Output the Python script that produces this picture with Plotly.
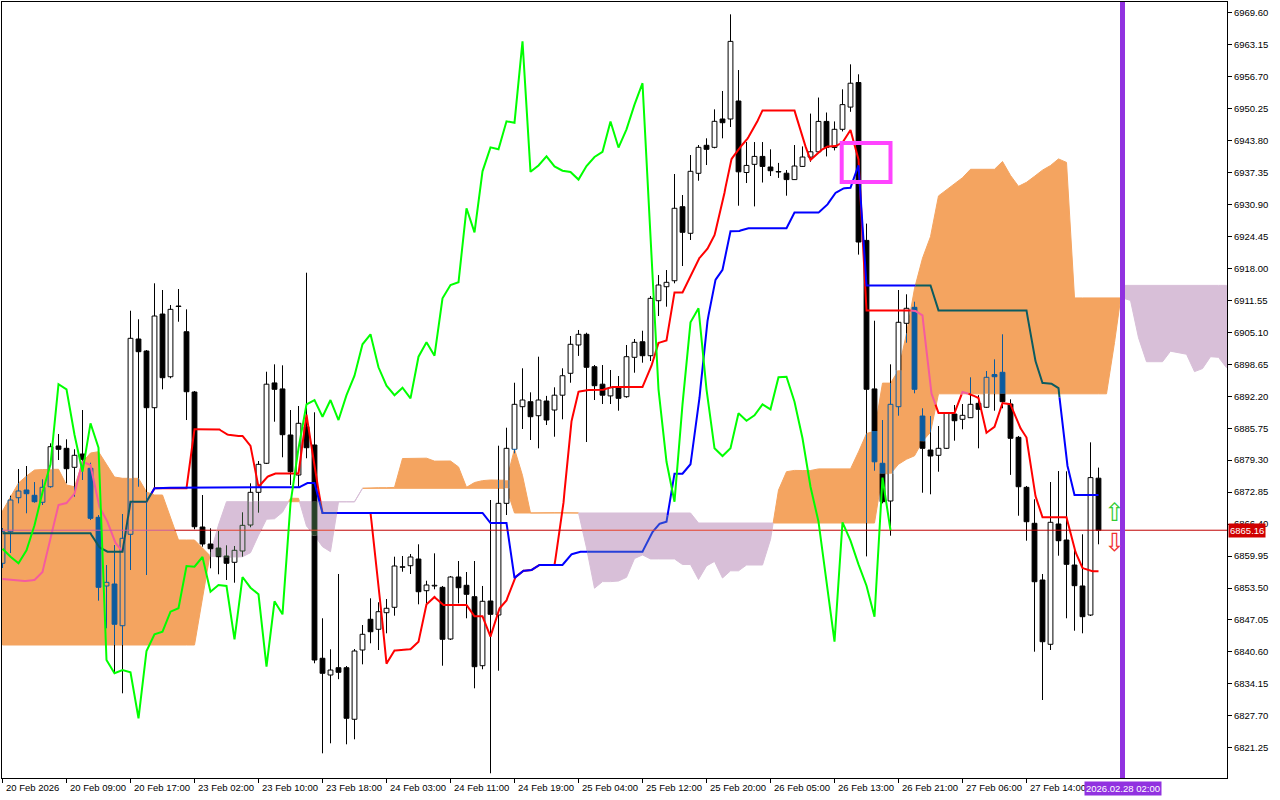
import numpy as np
import plotly.graph_objects as go

# ---------------- data (hourly bars, index 0 = 20 Feb 2026 01:00) ----------------
bar_open = [6858.49, 6864.86, 6871.72, 6873.28, 6872.21, 6870.80, 6873.94, 6882.16, 6881.69, 6877.86,
            6880.54, 6877.66, 6867.77, 6853.91, 6854.31, 6845.89, 6864.34, 6903.75, 6901.33, 6889.89,
            6908.79, 6896.14, 6910.41, 6905.22, 6893.05, 6865.81, 6862.38, 6861.57, 6859.96, 6858.69,
            6860.97, 6866.21, 6872.81, 6878.67, 6894.89, 6893.68, 6884.38, 6876.30, 6886.05, 6882.36,
            6839.32, 6835.94, 6837.42, 6837.42, 6827.01, 6840.99, 6847.19, 6845.17, 6848.52, 6849.61,
            6857.68, 6858.00, 6859.35, 6852.96, 6854.05, 6853.64, 6843.21, 6855.72, 6854.05, 6851.75,
            6837.82, 6850.88, 6848.05, 6870.59, 6881.49, 6890.09, 6891.10, 6888.27, 6891.24, 6889.42,
            6892.41, 6896.83, 6902.54, 6904.70, 6898.16, 6894.63, 6892.27, 6893.92, 6892.11, 6900.06,
            6903.20, 6900.38, 6911.48, 6914.30, 6915.51, 6930.45, 6925.08, 6937.19, 6942.84, 6942.43,
            6948.15, 6948.15, 6951.78, 6937.35, 6939.00, 6940.60, 6938.46, 6937.55, 6937.21, 6935.92,
            6938.58, 6940.46, 6941.53, 6947.66, 6942.39, 6946.07, 6950.55, 6955.51, 6923.65, 6893.68,
            6878.67, 6871.06, 6890.09, 6906.92, 6910.15, 6888.21, 6881.35, 6880.28, 6881.69, 6888.61,
            6887.55, 6887.87, 6890.77, 6889.97, 6896.58, 6897.03, 6890.63, 6883.91, 6873.82, 6866.56,
            6855.12, 6842.14, 6866.42, 6863.19, 6858.14, 6853.91, 6848.05, 6875.66]
bar_high = [6865.61, 6872.13, 6877.52, 6878.12, 6874.89, 6875.44, 6882.70, 6884.58, 6883.51, 6881.49,
            6889.42, 6878.79, 6868.23, 6858.14, 6862.18, 6868.43, 6909.46, 6907.73, 6901.53, 6914.99,
            6913.64, 6910.61, 6913.84, 6909.74, 6893.26, 6872.27, 6865.55, 6865.00, 6862.12, 6861.98,
            6868.78, 6874.63, 6879.13, 6897.15, 6898.64, 6898.44, 6889.42, 6890.23, 6917.13, 6888.96,
            6847.39, 6841.13, 6856.33, 6837.76, 6841.19, 6846.03, 6851.42, 6850.62, 6851.28, 6859.82,
            6859.96, 6860.36, 6862.32, 6854.97, 6860.50, 6853.91, 6855.92, 6858.95, 6856.73, 6858.95,
            6853.91, 6871.26, 6882.22, 6885.85, 6894.93, 6897.84, 6892.99, 6900.18, 6892.27, 6894.00,
            6897.84, 6904.36, 6905.57, 6905.02, 6898.50, 6898.50, 6897.49, 6896.28, 6902.54, 6903.75,
            6905.42, 6912.43, 6916.66, 6917.67, 6937.05, 6932.81, 6940.88, 6942.90, 6944.25, 6950.10,
            6953.80, 6969.27, 6958.03, 6943.50, 6943.50, 6943.50, 6942.03, 6939.29, 6937.85, 6942.90,
            6942.62, 6949.24, 6952.48, 6949.46, 6947.66, 6954.14, 6959.18, 6957.17, 6927.04, 6907.44,
            6887.40, 6898.64, 6913.64, 6912.77, 6911.28, 6889.77, 6888.21, 6886.19, 6889.02, 6890.43,
            6890.63, 6896.02, 6892.41, 6897.29, 6899.65, 6904.70, 6891.58, 6884.18, 6874.09, 6871.40,
            6856.33, 6874.89, 6877.11, 6877.05, 6861.71, 6864.34, 6882.90, 6877.80]
bar_low = [6857.54, 6860.56, 6870.59, 6868.58, 6870.72, 6870.25, 6873.74, 6879.33, 6874.63, 6871.93,
           6875.30, 6867.22, 6850.94, 6845.37, 6836.29, 6832.25, 6857.13, 6873.94, 6856.12, 6873.28,
           6893.60, 6895.82, 6907.24, 6887.40, 6865.35, 6861.84, 6857.48, 6856.27, 6855.12, 6854.57,
           6859.82, 6865.75, 6868.70, 6878.52, 6887.06, 6879.88, 6874.29, 6873.94, 6879.68, 6838.31,
           6820.14, 6822.16, 6835.10, 6821.96, 6822.97, 6838.10, 6842.34, 6840.99, 6844.36, 6847.91,
           6856.79, 6856.33, 6850.21, 6850.41, 6853.24, 6837.82, 6843.01, 6850.41, 6847.39, 6833.26,
           6837.10, 6816.11, 6836.81, 6868.23, 6880.68, 6885.59, 6883.37, 6881.69, 6886.39, 6884.03,
           6887.55, 6894.93, 6900.34, 6882.96, 6891.44, 6890.63, 6890.63, 6889.28, 6891.90, 6896.95,
           6898.97, 6899.31, 6908.39, 6910.27, 6914.99, 6918.48, 6923.73, 6935.69, 6938.86, 6942.23,
           6944.25, 6946.53, 6930.65, 6935.23, 6930.51, 6935.33, 6936.64, 6936.26, 6932.67, 6935.84,
           6938.46, 6939.51, 6941.30, 6940.60, 6941.81, 6945.64, 6949.60, 6920.78, 6859.88, 6877.17,
           6870.59, 6864.06, 6888.27, 6903.00, 6892.79, 6872.73, 6872.41, 6876.97, 6881.55, 6883.23,
           6885.53, 6887.81, 6881.69, 6889.83, 6889.28, 6889.77, 6876.33, 6868.09, 6863.05, 6840.65,
           6830.90, 6840.99, 6860.02, 6847.39, 6844.88, 6844.36, 6847.85, 6862.32]
bar_close = [6864.86, 6871.26, 6873.08, 6872.53, 6870.92, 6873.82, 6882.02, 6881.49, 6877.58, 6880.28,
             6879.47, 6867.57, 6853.64, 6854.65, 6846.18, 6863.53, 6903.89, 6901.19, 6889.89, 6908.39,
             6895.94, 6909.74, 6910.31, 6893.11, 6865.87, 6862.38, 6861.43, 6859.82, 6858.49, 6861.11,
             6866.15, 6872.81, 6878.46, 6894.63, 6893.60, 6884.44, 6876.97, 6886.74, 6881.81, 6838.97,
             6836.29, 6836.95, 6836.49, 6827.21, 6840.79, 6844.16, 6844.68, 6848.72, 6849.41, 6857.94,
             6857.80, 6859.76, 6852.75, 6854.11, 6853.91, 6843.15, 6855.72, 6853.56, 6852.23, 6837.62,
             6850.82, 6848.19, 6870.59, 6881.69, 6890.57, 6891.44, 6888.07, 6891.44, 6887.40, 6892.41,
             6896.34, 6902.68, 6904.70, 6898.04, 6894.33, 6892.41, 6893.92, 6891.78, 6900.18, 6903.08,
             6900.38, 6911.96, 6914.65, 6915.19, 6930.13, 6925.28, 6937.59, 6942.43, 6942.03, 6947.68,
             6947.40, 6963.81, 6937.49, 6938.78, 6940.60, 6938.58, 6937.71, 6937.45, 6935.92, 6938.66,
             6940.48, 6941.53, 6947.66, 6942.39, 6946.07, 6951.05, 6955.37, 6923.32, 6893.60, 6878.97,
             6870.92, 6890.57, 6907.12, 6909.95, 6893.60, 6881.69, 6880.14, 6881.69, 6888.76, 6887.26,
             6888.35, 6890.57, 6889.56, 6896.02, 6896.14, 6891.10, 6883.71, 6873.94, 6866.88, 6854.77,
             6842.66, 6866.76, 6863.05, 6858.28, 6853.97, 6847.71, 6875.78, 6865.16]

tenkan_sen = [6855.32, 6855.12, 6854.92, 6854.92, 6855.12, 6856.73, 6863.79, 6870.25, 6870.65, 6872.57,
              6878.99, 6878.32, 6870.17, 6867.43, 6862.84, 6860.83, 6870.86, 6870.86, 6870.86, 6873.62,
              6873.62, 6873.62, 6873.62, 6873.62, 6885.55, 6885.55, 6885.55, 6885.63, 6884.48, 6884.20,
              6884.20, 6882.16, 6873.90, 6875.86, 6876.61, 6876.61, 6876.61, 6876.61, 6888.47, 6877.72,
              6868.64, 6868.64, 6868.64, 6868.64, 6868.64, 6868.64, 6868.64, 6854.55, 6838.23, 6840.89,
              6840.95, 6841.15, 6842.64, 6850.21, 6851.69, 6850.07, 6850.07, 6850.07, 6850.07, 6847.79,
              6847.79, 6843.67, 6849.16, 6850.98, 6855.52, 6856.97, 6856.97, 6858.14, 6858.14, 6858.14,
              6868.50, 6886.29, 6893.11, 6893.48, 6893.44, 6893.44, 6894.09, 6894.09, 6894.09, 6894.09,
              6894.09, 6897.70, 6902.96, 6903.47, 6913.15, 6913.15, 6916.38, 6919.91, 6921.61, 6924.70,
              6931.09, 6939.77, 6942.13, 6943.87, 6946.49, 6949.88, 6949.88, 6949.88, 6949.88, 6949.88,
              6944.27, 6939.87, 6941.49, 6942.58, 6942.58, 6943.40, 6945.93, 6939.97, 6909.52, 6909.52,
              6909.52, 6909.52, 6909.52, 6909.52, 6909.52, 6908.51, 6893.28, 6888.84, 6888.84, 6888.84,
              6893.05, 6892.59, 6891.84, 6884.84, 6886.03, 6890.83, 6890.59, 6886.39, 6883.87, 6872.67,
              6867.79, 6867.79, 6867.79, 6867.79, 6861.23, 6857.54, 6856.89, 6856.89]
kijun_sen = [6864.54, 6864.54, 6864.54, 6864.54, 6864.54, 6864.54, 6864.54, 6864.54, 6864.54, 6864.54,
             6864.54, 6864.54, 6861.84, 6860.83, 6860.83, 6860.83, 6870.92, 6870.92, 6870.92, 6873.62,
             6873.74, 6873.74, 6873.74, 6873.74, 6873.74, 6873.74, 6873.74, 6873.74, 6873.74, 6873.74,
             6873.74, 6873.74, 6873.74, 6873.74, 6873.74, 6873.74, 6873.74, 6873.74, 6874.69, 6874.69,
             6868.64, 6868.64, 6868.64, 6868.64, 6868.64, 6868.64, 6868.64, 6868.64, 6868.64, 6868.64,
             6868.64, 6868.64, 6868.64, 6868.64, 6868.64, 6868.64, 6868.64, 6868.64, 6868.64, 6868.64,
             6868.64, 6866.62, 6866.62, 6866.62, 6855.52, 6856.97, 6856.97, 6858.14, 6858.14, 6858.14,
             6858.14, 6860.22, 6860.83, 6860.83, 6860.83, 6860.83, 6860.83, 6860.83, 6860.83, 6860.83,
             6860.83, 6864.26, 6866.38, 6866.88, 6876.57, 6876.57, 6878.48, 6889.85, 6906.23, 6915.39,
             6917.73, 6925.48, 6925.48, 6926.11, 6926.11, 6926.11, 6926.11, 6926.11, 6926.11, 6929.28,
             6929.28, 6929.28, 6929.28, 6930.59, 6933.11, 6934.12, 6934.28, 6938.82, 6914.57, 6914.57,
             6914.57, 6914.57, 6914.57, 6914.57, 6914.57, 6914.57, 6914.57, 6909.52, 6909.52, 6909.52,
             6909.52, 6909.52, 6909.52, 6909.52, 6909.52, 6909.52, 6909.52, 6909.52, 6909.52, 6899.92,
             6894.85, 6894.85, 6893.84, 6878.97, 6872.27, 6872.27, 6872.27, 6872.27]
# cloud spans, already displaced 26 bars forward (154 positions incl. future)
senkou_a = [6869.04, 6871.87, 6874.69, 6876.10, 6877.31, 6877.41, 6877.46, 6877.46, 6874.29, 6873.94,
            6878.93, 6880.74, 6881.01, 6878.32, 6875.90, 6875.64, 6875.64, 6875.64, 6872.87, 6872.27,
            6872.27, 6867.63, 6863.19, 6863.19, 6863.19, 6861.57, 6859.92, 6859.82, 6859.72, 6859.72,
            6859.82, 6860.63, 6864.16, 6867.39, 6867.47, 6868.80, 6871.62, 6871.60, 6866.01, 6864.12,
            6861.84, 6860.83, 6870.88, 6870.88, 6870.88, 6873.62, 6873.74, 6873.74, 6873.74, 6873.80,
            6879.63, 6879.70, 6879.70, 6879.70, 6879.11, 6879.13, 6879.13, 6877.94, 6873.82, 6874.79,
            6875.17, 6875.30, 6875.30, 6875.24, 6881.57, 6876.20, 6868.64, 6868.70, 6868.70, 6868.70,
            6868.70, 6868.70, 6868.70, 6861.61, 6853.46, 6854.79, 6854.79, 6854.91, 6855.66, 6859.45,
            6860.18, 6859.37, 6859.37, 6859.37, 6859.37, 6858.24, 6858.24, 6855.22, 6857.96, 6858.87,
            6855.52, 6856.97, 6856.97, 6858.14, 6858.14, 6858.14, 6863.31, 6873.26, 6876.97, 6877.23,
            6877.21, 6877.21, 6877.54, 6877.54, 6877.54, 6877.54, 6877.54, 6880.97, 6884.66, 6885.18,
            6894.85, 6894.85, 6897.43, 6904.88, 6913.92, 6920.06, 6924.41, 6932.63, 6933.80, 6934.99,
            6936.30, 6938.00, 6938.00, 6938.00, 6938.00, 6939.57, 6936.76, 6934.56, 6935.37, 6936.58,
            6937.83, 6938.76, 6940.09, 6939.39, 6912.04, 6912.04, 6912.04, 6912.04, 6912.04, 6912.04,
            6912.04, 6911.54, 6904.01, 6899.17, 6899.17, 6899.17, 6901.29, 6901.05, 6900.68, 6897.17,
            6897.78, 6900.18, 6900.06, 6897.96]
senkou_b = [6842.00, 6842.00, 6842.00, 6842.00, 6842.00, 6842.00, 6842.00, 6842.00, 6842.00, 6842.00,
            6842.00, 6842.00, 6842.00, 6842.00, 6842.00, 6842.00, 6842.00, 6842.00, 6842.00, 6842.00,
            6842.00, 6842.00, 6842.00, 6842.00, 6842.00, 6851.48, 6860.77, 6866.21, 6870.92, 6870.92,
            6870.92, 6870.92, 6870.92, 6870.92, 6870.92, 6870.92, 6870.92, 6870.92, 6870.92, 6870.92,
            6870.92, 6870.92, 6870.92, 6870.92, 6870.92, 6873.62, 6873.62, 6873.62, 6873.62, 6873.62,
            6873.62, 6873.62, 6873.62, 6873.62, 6873.62, 6873.62, 6873.62, 6873.62, 6873.62, 6873.62,
            6873.62, 6873.62, 6873.62, 6873.62, 6868.64, 6868.64, 6868.64, 6868.64, 6868.64, 6868.64,
            6868.64, 6868.64, 6868.64, 6868.64, 6868.64, 6868.64, 6868.64, 6868.64, 6868.64, 6868.64,
            6868.64, 6868.64, 6868.64, 6868.64, 6868.64, 6868.64, 6868.64, 6866.62, 6866.62, 6866.62,
            6866.62, 6866.62, 6866.62, 6866.62, 6866.62, 6866.62, 6866.62, 6866.62, 6866.62, 6866.62,
            6866.62, 6866.62, 6866.62, 6866.62, 6866.62, 6866.62, 6866.62, 6866.62, 6866.62, 6866.62,
            6876.57, 6876.57, 6878.48, 6879.49, 6880.18, 6883.11, 6884.94, 6892.69, 6892.69, 6892.69,
            6892.69, 6892.69, 6892.69, 6892.69, 6892.69, 6892.69, 6892.69, 6892.69, 6892.69, 6892.69,
            6892.69, 6892.69, 6892.69, 6892.69, 6892.69, 6892.69, 6892.69, 6892.69, 6892.69, 6903.04,
            6914.57, 6914.57, 6914.57, 6914.57, 6914.57, 6914.57, 6914.57, 6914.57, 6914.57, 6914.57,
            6914.57, 6914.57, 6914.57, 6914.57]

x_tick_bars = [0, 8, 16, 24, 32, 40, 48, 56, 64, 72, 80, 88, 96, 104, 112, 120, 128]
x_tick_labels = ["20 Feb 2026", "20 Feb 09:00", "20 Feb 17:00", "23 Feb 02:00", "23 Feb 10:00",
                 "23 Feb 18:00", "24 Feb 03:00", "24 Feb 11:00", "24 Feb 19:00", "25 Feb 04:00",
                 "25 Feb 12:00", "25 Feb 20:00", "26 Feb 05:00", "26 Feb 13:00", "26 Feb 21:00",
                 "27 Feb 06:00", "27 Feb 14:00"]
price_ticks = [6969.60, 6963.15, 6956.70, 6950.25, 6943.80, 6937.35, 6930.90, 6924.45, 6918.00,
               6911.55, 6905.10, 6898.65, 6892.20, 6885.75, 6879.30, 6872.85, 6866.40, 6859.95,
               6853.50, 6847.05, 6840.60, 6834.15, 6827.70, 6821.25]
last_price = 6865.16
chikou_shift = 26
vline_bar = 140
vline_label = "2026.02.28 02:00"
box_bars = [104.9, 111.0]
box_prices = [6943.30, 6935.43]
signal_bar = 139
signal_up_price = 6868.64
signal_down_price = 6862.68

# ---------------- styles ----------------
ORANGE = "#F4A460"
THISTLE = "#D8BFD8"
MASK = {"o": 0x0B5B9F, "p": 0x274027}   # colour inversion applied by the cloud
HALF = 0.3
FONT = "Liberation Sans, Arial, sans-serif"

N = len(bar_close)
NX = len(senkou_a)
XA = np.arange(NX, dtype=float)
SA = np.array(senkou_a)
SB = np.array(senkou_b)


def shade(color, reg):
    if reg is None:
        return color
    return "#%06X" % (int(color[1:], 16) ^ MASK[reg])


def bounds(xf):
    return float(np.interp(xf, XA, SA)), float(np.interp(xf, XA, SB))


def region_of(xf, y):
    a, b = bounds(xf)
    if min(a, b) < y < max(a, b):
        return "o" if a > b else "p"
    return None


def split_vertical(xf, y0, y1):
    lo, hi = min(y0, y1), max(y0, y1)
    a, b = bounds(xf)
    cuts = sorted(set([lo, hi] + [c for c in (a, b) if lo < c < hi]))
    if len(cuts) == 1:
        return [(lo, hi, region_of(xf, lo))]
    return [(s, e, region_of(xf, (s + e) / 2)) for s, e in zip(cuts[:-1], cuts[1:])]


def put(store, color, xs_, ys_):
    X, Y = store.setdefault(color, ([], []))
    X.extend(list(xs_) + [None])
    Y.extend(list(ys_) + [None])


def split_polyline(xs_, ys_, base, sub=8):
    out = {}
    cur_c, cur = None, []
    for k in range(len(xs_) - 1):
        x0, y0, x1, y1 = xs_[k], ys_[k], xs_[k + 1], ys_[k + 1]
        for j in range(sub):
            t0, t1 = j / sub, (j + 1) / sub
            tm = (t0 + t1) / 2
            c = shade(base, region_of(x0 + (x1 - x0) * tm, y0 + (y1 - y0) * tm))
            pa = (x0 + (x1 - x0) * t0, y0 + (y1 - y0) * t0)
            pb = (x0 + (x1 - x0) * t1, y0 + (y1 - y0) * t1)
            if c != cur_c:
                if cur_c is not None and len(cur) > 1:
                    put(out, cur_c, [p[0] for p in cur], [p[1] for p in cur])
                cur_c, cur = c, [pa]
            cur.append(pb)
    if cur_c is not None and len(cur) > 1:
        put(out, cur_c, [p[0] for p in cur], [p[1] for p in cur])
    return out


fig = go.Figure()

# ---------------- Ichimoku cloud ----------------
polys = {"o": ([], []), "p": ([], [])}
d = SA - SB
run_x, run_a, run_b, run_s = [], [], [], None


def close_run(sign):
    X, Y = polys[sign]
    X.extend(run_x + run_x[::-1] + [run_x[0], None])
    Y.extend(run_a + run_b[::-1] + [run_a[0], None])


for i in range(NX):
    s = "o" if d[i] > 0 else ("p" if d[i] < 0 else (run_s or "o"))
    if run_s is None:
        run_s = s
    if s != run_s:
        t = d[i - 1] / (d[i - 1] - d[i])
        xc = i - 1 + t
        yc = SA[i - 1] + (SA[i] - SA[i - 1]) * t
        run_x.append(xc); run_a.append(yc); run_b.append(yc)
        close_run(run_s)
        run_x, run_a, run_b = [xc], [yc], [yc]
        run_s = s
    run_x.append(float(i)); run_a.append(float(SA[i])); run_b.append(float(SB[i]))
close_run(run_s)

for key, col in (("o", ORANGE), ("p", THISTLE)):
    X, Y = polys[key]
    fig.add_trace(go.Scatter(x=X, y=Y, mode="lines", fill="toself", fillcolor=col,
                             line=dict(color=col, width=1), hoverinfo="skip"))

# ---------------- candles ----------------
fills, strokes = {}, {}
for i in range(N):
    o, h, l, c = bar_open[i], bar_high[i], bar_low[i], bar_close[i]
    bull = c >= o
    bot, top = min(o, c), max(o, c)
    base_fill = "#FFFFFF" if bull else "#000000"
    for s, e, r in split_vertical(i, top, h):
        put(strokes, shade("#000000", r), [i, i], [s, e])
    for s, e, r in split_vertical(i, l, bot):
        put(strokes, shade("#000000", r), [i, i], [s, e])
    for s, e, r in split_vertical(i, bot, top):
        put(fills, shade(base_fill, r), [i - HALF, i + HALF, i + HALF, i - HALF, i - HALF], [s, s, e, e, s])
        put(strokes, shade("#000000", r), [i - HALF, i - HALF], [s, e])
        put(strokes, shade("#000000", r), [i + HALF, i + HALF], [s, e])
    put(strokes, shade("#000000", region_of(i, top)), [i - HALF, i + HALF], [top, top])
    put(strokes, shade("#000000", region_of(i, bot)), [i - HALF, i + HALF], [bot, bot])

for col, (X, Y) in fills.items():
    fig.add_trace(go.Scatter(x=X, y=Y, mode="lines", fill="toself", fillcolor=col,
                             line=dict(color=col, width=0), hoverinfo="skip"))
for col, (X, Y) in strokes.items():
    fig.add_trace(go.Scatter(x=X, y=Y, mode="lines", line=dict(color=col, width=1), hoverinfo="skip"))

# ---------------- indicator lines ----------------
bars = list(range(N))
for series, base in ((tenkan_sen, "#FF0000"), (kijun_sen, "#0000FF")):
    for col, (X, Y) in split_polyline(bars, series, base).items():
        fig.add_trace(go.Scatter(x=X, y=Y, mode="lines", line=dict(color=col, width=2), hoverinfo="skip"))

px_x = [-1.0] + [float(k) for k in range(NX)] + [float(NX)]
px_y = [last_price] * len(px_x)
for col, (X, Y) in split_polyline(px_x, px_y, "#C00000", sub=4).items():
    fig.add_trace(go.Scatter(x=X, y=Y, mode="lines", line=dict(color=col, width=1), hoverinfo="skip"))

# chikou span = close plotted 26 bars back
fig.add_trace(go.Scatter(x=list(range(N - chikou_shift)), y=bar_close[chikou_shift:], mode="lines",
                         line=dict(color="#00FF00", width=2), hoverinfo="skip"))

# ---------------- objects ----------------
fig.add_shape(type="line", xref="x", yref="paper", x0=vline_bar, x1=vline_bar, y0=0, y1=1,
              line=dict(color="#9132E0", width=5))
fig.add_shape(type="rect", xref="x", yref="y", x0=box_bars[0], x1=box_bars[1],
              y0=box_prices[1], y1=box_prices[0], line=dict(color="#FF44FF", width=4))

ann = []
for b, t in zip(x_tick_bars, x_tick_labels):
    ann.append(dict(x=b, y=0, xref="x", yref="paper", text=t, showarrow=False, xanchor="left",
                    yanchor="top", xshift=1, yshift=-2, font=dict(family=FONT, size=9.5, color="black")))
ann.append(dict(x=vline_bar, y=0, xref="x", yref="paper", text=vline_label, showarrow=False,
                xanchor="center", yanchor="top", yshift=-3, bgcolor="#9132E0", borderpad=1,
                font=dict(family=FONT, size=9.5, color="white")))
ann.append(dict(x=1, y=last_price, xref="paper", yref="y", text=f"{last_price:.2f}", showarrow=False,
                xanchor="left", yanchor="middle", xshift=1, bgcolor="#D00000", borderpad=1,
                font=dict(family=FONT, size=9.5, color="white")))
ann.append(dict(x=signal_bar, y=signal_up_price, xref="x", yref="y", text="\u21e7", showarrow=False,
                font=dict(family="DejaVu Sans", size=25, color="#33CC33")))
ann.append(dict(x=signal_bar, y=signal_down_price, xref="x", yref="y", text="\u21e9", showarrow=False,
                font=dict(family="DejaVu Sans", size=25, color="#F03030")))

fig.update_layout(
    width=1280, height=800, margin=dict(l=2, r=53, t=2, b=22),
    paper_bgcolor="white", plot_bgcolor="white", showlegend=False, hovermode=False,
    font=dict(family=FONT, size=9.5, color="black"), annotations=ann,
)
fig.update_xaxes(range=[-0.0625, 153.0625], showgrid=False, zeroline=False, showline=True,
                 linecolor="black", linewidth=1, mirror=True, ticks="outside", ticklen=4,
                 tickcolor="black", tickvals=x_tick_bars, showticklabels=False)
fig.update_yaxes(side="right", range=[6815.16, 6971.76], showgrid=False, zeroline=False,
                 showline=True, linecolor="black", linewidth=1, mirror=True, ticks="outside",
                 ticklen=4, tickcolor="black", tickvals=price_ticks,
                 ticktext=[f"{v:.2f}" for v in price_ticks],
                 tickfont=dict(family=FONT, size=9.5, color="black"))

fig.write_html("out.html", config={"displayModeBar": False},
               post_script="document.body.style.margin='0';document.body.style.overflow='hidden';")
